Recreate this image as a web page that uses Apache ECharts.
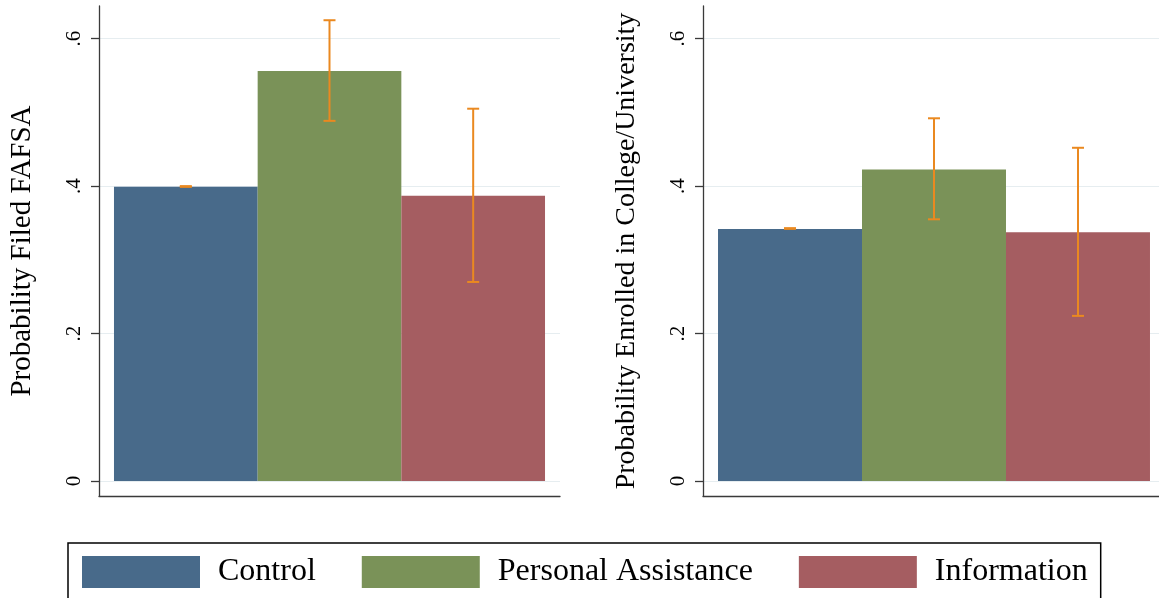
<!DOCTYPE html>
<html>
<head>
<meta charset="utf-8">
<style>
html,body{margin:0;padding:0;background:#fff;}
#chart{width:1159px;height:598px;}
</style>
<script src="https://cdn.jsdelivr.net/npm/echarts@6/dist/echarts.min.js"></script>
</head>
<body>
<div id="chart"></div>
<script>
const categories = ['Control', 'Personal Assistance', 'Information'];
const colors = ['#486a8a', '#7a9258', '#a55d61'];
const fafsaValues = [0.399, 0.556, 0.387];
const fafsaLow = [0.399, 0.4885, 0.270];
const fafsaHigh = [0.400, 0.625, 0.505];
const enrollValues = [0.342, 0.4225, 0.3375];
const enrollLow = [0.342, 0.355, 0.224];
const enrollHigh = [0.343, 0.492, 0.452];
const yTicks = [0, 0.2, 0.4, 0.6];
const yTickLabels = ['0', '.2', '.4', '.6'];
const yTitles = ['Probability Filed FAFSA', 'Probability Enrolled in College/University'];

const FONT = 'Liberation Serif';
const GAP = 0.065;
const AXIS_COLOR = '#3a3a3a';

function tickLabel(v) {
  for (let i = 0; i < yTicks.length; i++) {
    if (Math.abs(yTicks[i] - v) < 1e-6) return yTickLabels[i];
  }
  return '';
}

function makeYAxis(idx, name, fontSize) {
  return {
    type: 'value', gridIndex: idx, min: -0.0203, max: 0.6443,
    name: name, nameLocation: 'middle', nameRotate: 90, nameGap: 62,
    nameTextStyle: {fontFamily: FONT, fontSize: fontSize, color: '#000'},
    axisLine: {show: true, lineStyle: {color: AXIS_COLOR, width: 1.3}},
    axisTick: {show: true, length: 8, customValues: yTicks, lineStyle: {color: AXIS_COLOR, width: 1.3}},
    axisLabel: {show: true, customValues: yTicks, rotate: 90, margin: 14, fontFamily: FONT, fontSize: 21, color: '#000', formatter: tickLabel},
    splitLine: {show: true, lineStyle: {color: '#e6edf0', width: 1}}
  };
}

function makeXAxis(idx) {
  return {
    type: 'category', gridIndex: idx, data: ['x'],
    axisLine: {show: true, onZero: false, lineStyle: {color: AXIS_COLOR, width: 1.3}},
    axisTick: {show: false}, axisLabel: {show: false}, splitLine: {show: false}
  };
}

const series = [];
[[fafsaValues], [enrollValues]].forEach((vals, p) => {
  categories.forEach((c, i) => {
    series.push({
      type: 'bar', name: c, xAxisIndex: p, yAxisIndex: p,
      data: [vals[0][i]], barGap: '0%', barCategoryGap: (GAP * 100) + '%',
      itemStyle: {color: colors[i]}, z: 2, silent: true
    });
  });
});

function errData(lo, hi) {
  return categories.map((c, i) => [0, i, lo[i], hi[i]]);
}

function errRender(params, api) {
  const i = api.value(1);
  const pLo = api.coord([0, api.value(2)]);
  const pHi = api.coord([0, api.value(3)]);
  const band = api.size([1, 0])[0];
  const total = band * (1 - GAP);
  const bw = total / 3;
  const x = pLo[0] - total / 2 + (i + 0.5) * bw;
  const cap = 6;
  const style = {stroke: '#ea8920', lineWidth: 2};
  return {
    type: 'group',
    children: [
      {type: 'line', shape: {x1: x, y1: pLo[1], x2: x, y2: pHi[1]}, style: style},
      {type: 'line', shape: {x1: x - cap, y1: pLo[1], x2: x + cap, y2: pLo[1]}, style: style},
      {type: 'line', shape: {x1: x - cap, y1: pHi[1], x2: x + cap, y2: pHi[1]}, style: style}
    ]
  };
}

series.push({
  type: 'custom', xAxisIndex: 0, yAxisIndex: 0, data: errData(fafsaLow, fafsaHigh),
  encode: {x: 0, y: [2, 3]}, renderItem: errRender, z: 5, silent: true
});
series.push({
  type: 'custom', xAxisIndex: 1, yAxisIndex: 1, data: errData(enrollLow, enrollHigh),
  encode: {x: 0, y: [2, 3]}, renderItem: errRender, z: 5, silent: true
});

const chart = echarts.init(document.getElementById('chart'), null, {renderer: 'canvas'});
chart.setOption({
  animation: false,
  backgroundColor: '#fff',
  textStyle: {fontFamily: FONT},
  grid: [
    {left: 99, top: 6, width: 461, height: 490, containLabel: false, outerBoundsMode: 'none'},
    {left: 703, top: 6, width: 462, height: 490, containLabel: false, outerBoundsMode: 'none'}
  ],
  xAxis: [makeXAxis(0), makeXAxis(1)],
  yAxis: [makeYAxis(0, yTitles[0], 29), makeYAxis(1, yTitles[1], 28)],
  legend: {
    data: categories, left: 68, top: 543, orient: 'horizontal',
    icon: 'rect', itemWidth: 118, itemHeight: 32, itemGap: 46,
    padding: [13, 13, 13, 14], borderColor: '#000', borderWidth: 1.5,
    textStyle: {fontFamily: FONT, fontSize: 32, color: '#000', padding: [0, 0, 0, 13]},
    selectedMode: false
  },
  series: series
});
</script>
</body>
</html>
